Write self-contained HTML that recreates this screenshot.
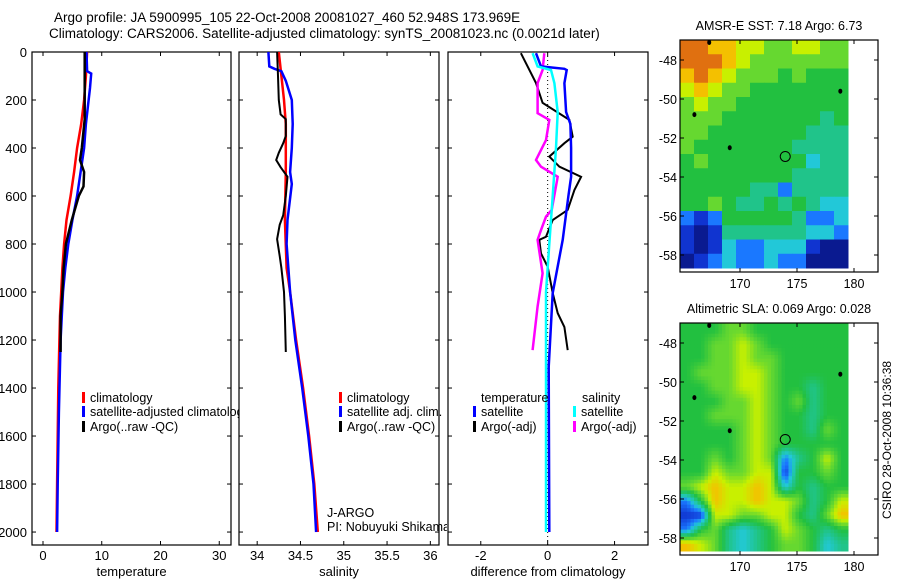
<!DOCTYPE html>
<html><head><meta charset="utf-8">
<style>
body{margin:0;background:#fff;}
svg{display:block;font-family:"Liberation Sans",sans-serif;}
text{fill:#000;}
</style></head>
<body>
<svg id="fig" width="900" height="580" viewBox="0 0 900 580" xmlns="http://www.w3.org/2000/svg">
<defs>
<clipPath id="c1"><rect x="32" y="52" width="208" height="493"/></clipPath>
<clipPath id="c2"><rect x="239" y="52" width="208" height="493"/></clipPath>
</defs>
<text x="54" y="22" font-size="13.5">Argo profile: JA 5900995_105 22-Oct-2008 20081027_460 52.948S 173.969E</text>
<text x="49" y="38" font-size="13.5">Climatology: CARS2006. Satellite-adjusted climatology: synTS_20081023.nc (0.0021d later)</text>
<g id="g1"></g>
<g id="g2"></g>
<g id="g3"></g>
<g id="m1"></g>
<g id="m2"></g>
<text transform="translate(891,440) rotate(-90)" text-anchor="middle" font-size="12">CSIRO 28-Oct-2008 10:36:38</text>
</svg>
<script>
// ---- data ----
const depthTicks=[0,200,400,600,800,1000,1200,1400,1600,1800,2000];
const tempTicks=[0,10,20,30];
const salTicks=[34,34.5,35,35.5,36];
const diffTicks=[-2,0,2];
const tempClimDepth=[0,100,200,300,400,500,600,700,800,900,1000,1100,1200,1400,1600,1800,2000];
const tempClim=[7.5,7.3,7.0,6.5,5.8,5.3,4.7,4.0,3.6,3.3,3.1,2.9,2.8,2.6,2.5,2.4,2.3];
const tempSatDepth=[0,80,90,150,300,400,500,600,700,800,900,1000,1200,1500,1800,2000];
const tempSat=[7.4,7.5,8.2,8.0,7.3,7.0,6.4,5.8,5.0,4.3,3.8,3.4,3.0,2.7,2.5,2.4];
const tempArgoDepth=[0,280,400,450,500,560,600,700,800,900,1000,1100,1250];
const tempArgo=[7.1,7.1,6.6,6.3,7.0,6.9,6.1,4.9,3.9,3.5,3.3,3.0,3.0];
const salClimDepth=[0,100,200,300,500,700,900,1000,1200,1400,1600,1800,2000];
const salClim=[34.25,34.28,34.31,34.33,34.33,34.32,34.34,34.38,34.45,34.53,34.6,34.66,34.7];
const salSatDepth=[0,60,70,80,120,200,300,400,500,550,700,800,1000,1200,1400,1600,1800,2000];
const salSat=[34.13,34.14,34.2,34.28,34.33,34.4,34.41,34.4,34.38,34.4,34.35,34.34,34.38,34.44,34.52,34.59,34.65,34.68];
const salArgoDepth=[0,100,200,260,280,350,380,420,450,480,520,600,680,720,780,850,900,1000,1100,1250];
const salArgo=[34.23,34.24,34.25,34.27,34.33,34.33,34.3,34.25,34.22,34.27,34.35,34.33,34.3,34.26,34.23,34.26,34.28,34.31,34.32,34.33];
const dTSatDepth=[5,60,70,75,130,250,300,400,520,600,783,1004,1312,2000];
const dTSat=[-0.35,-0.2,0.5,0.57,0.5,0.55,0.68,0.7,0.7,0.62,0.45,0.15,0.03,0.05];
const dTArgoDepth=[5,129,212,283,353,380,436,478,520,575,658,700,770,783,839,895,1004,1088,1146,1242];
const dTArgo=[-0.8,-0.35,-0.15,0.65,0.75,0.5,0.05,0.35,1.0,0.8,0.6,0.15,-0.05,-0.25,-0.2,0,0.15,0.3,0.5,0.6];
const dSSatDepth=[5,60,75,130,250,400,600,800,1000,1300,2000];
const dSSat=[-0.45,-0.3,0.1,0.2,0.3,0.25,0.15,0.05,-0.05,-0.05,-0.05];
const dSArgoDepth=[5,75,129,255,283,367,450,478,520,658,686,742,783,922,1060,1242];
const dSArgo=[-0.1,-0.15,-0.3,-0.3,0.05,-0.05,-0.35,-0.2,0.3,0.12,-0.05,-0.2,-0.3,-0.15,-0.3,-0.45];
const latTicks=[-48,-50,-52,-54,-56,-58];
const lonTicks=[170,175,180];
const sstGrid=[
[9,9,8,8,7,7,6,6,7,7,6,6],[9,9,9,8,7,6,6,6,6,6,6,6],[8,9,8,7,6,6,6,5,6,5,5,5],[7,8,7,6,6,5,5,5,5,5,5,5],
[6,7,6,6,5,5,5,5,5,5,5,5],[6,6,6,5,5,5,5,5,5,5,4,5],[6,6,5,5,5,5,5,5,5,4,4,4],[6,5,5,5,5,5,5,5,4,4,4,4],
[5,6,5,5,5,5,5,5,5,3,4,4],[5,5,5,5,5,5,5,5,4,4,4,4],[5,5,5,5,5,4,4,2,4,4,4,4],[5,5,6,5,4,4,5,4,5,4,3,3],
[2,1,2,5,5,5,5,5,4,2,2,3],[1,0,1,4,4,4,4,4,4,3,3,2],[1,0,1,3,2,2,3,3,3,1,0,0],[0,1,2,3,2,2,3,2,2,0,0,0]];
const slaGrid=[
[5,5,5,6,6,5,5,5,5,5,5,5],[5,5,6,6,7,6,5,5,5,5,5,5],[5,5,6,6,7,6,6,5,5,5,5,5],[5,6,6,6,7,7,6,5,5,5,5,5],
[5,5,6,6,7,7,6,5,5,4,5,5],[5,5,5,6,6,7,6,5,6,4,5,5],[5,5,6,6,6,7,6,5,5,4,5,5],[5,5,5,5,6,7,6,5,5,4,6,5],
[5,5,5,5,6,7,6,5,5,5,5,5],[5,5,6,5,6,7,6,2,4,5,7,5],[5,5,7,6,6,7,7,1,5,5,6,5],[6,7,8,7,7,8,7,3,5,4,5,5],
[2,5,8,7,7,8,7,7,6,4,5,7],[1,1,7,7,6,6,7,7,5,4,6,8],[2,5,6,4,3,4,5,7,6,5,4,5],[8,7,6,4,3,4,5,6,6,5,3,4]];
const cmap=["#0a1a90","#1034d0","#1a78ff","#22c8d8","#20c48a","#22c040","#66d830","#c8f000","#f4c000","#e07010"];

// ---- helpers ----
const NS="http://www.w3.org/2000/svg";
function mk(parent,tag,attrs){const e=document.createElementNS(NS,tag);for(const k in attrs)e.setAttribute(k,attrs[k]);parent.appendChild(e);return e;}
const Y0=52,Y1=545,DMAX=2054;
const yD=d=>Y0+d*(Y1-Y0)/DMAX;

function hex(c){return [parseInt(c.slice(1,3),16),parseInt(c.slice(3,5),16),parseInt(c.slice(5,7),16)];}
function colorAt(v){
  v=Math.max(0,Math.min(9,v));const i=Math.min(8,Math.floor(v)),f=v-i;
  const a=hex(cmap[i]),b=hex(cmap[i+1]);
  return 'rgb('+a.map((x,k)=>Math.round(x+(b[k]-x)*f)).join(',')+')';
}

function panel(g,x0,x1,vmin,vmax,xt,label,ylabels){
  const sx=v=>x0+(v-vmin)*(x1-x0)/(vmax-vmin);
  const r=mk(g,'rect',{x:x0,y:Y0,width:x1-x0,height:Y1-Y0,fill:'#fff',stroke:'#000','stroke-width':1.2});
  
  
  depthTicks.forEach(d=>{
    const y=yD(d);
    mk(g,'line',{x1:x0,y1:y,x2:x0+4,y2:y,stroke:'#000'});
    mk(g,'line',{x1:x1,y1:y,x2:x1-4,y2:y,stroke:'#000'});
    if(ylabels){const t=mk(g,'text',{x:x0-5,y:y+5,'text-anchor':'end','font-size':13});t.textContent=d;
      
      }
  });
  xt.forEach(v=>{
    const x=sx(v);
    mk(g,'line',{x1:x,y1:Y1,x2:x,y2:Y1-4,stroke:'#000'});
    mk(g,'line',{x1:x,y1:Y0,x2:x,y2:Y0+4,stroke:'#000'});
    const t=mk(g,'text',{x:x,y:560,'text-anchor':'middle','font-size':13});t.textContent=v;
    
    
  });
  const t=mk(g,'text',{x:(x0+x1)/2,y:576,'text-anchor':'middle','font-size':13});t.textContent=label;
  
  
  return sx;
}
function line(g,sx,ds,vs,color,w,name){
  const pts=ds.map((d,i)=>sx(vs[i]).toFixed(1)+','+yD(d).toFixed(1)).join(' ');
  const p=mk(g,'polyline',{points:pts,fill:'none',stroke:color,'stroke-width':w});
  
  
}
function legend(g,x,y,color,label,clip){
  mk(g,'rect',{x:x,y:y-10,width:3,height:11,fill:color});
  const t=mk(g,'text',{x:x+8,y:y,'font-size':12.5});
  if(clip)t.setAttribute('clip-path',clip);
  t.textContent=label;
  
  
}

// Temperature
const g1=document.getElementById('g1');
const sT=panel(g1,32,231,-1.87,32.0,tempTicks,'temperature',true);
line(g1,sT,tempClimDepth,tempClim,'#f00',2.5,'temp-climatology-line');
line(g1,sT,tempSatDepth,tempSat,'#00f',2.5,'temp-satellite-line');
line(g1,sT,tempArgoDepth,tempArgo,'#000',2.5,'temp-argo-line');
legend(g1,82,402,'#f00','climatology','url(#c1)');
legend(g1,82,416,'#00f','satellite-adjusted climatology','url(#c1)');
legend(g1,82,431,'#000','Argo(..raw -QC)','url(#c1)');

// Salinity
const g2=document.getElementById('g2');
const sS=panel(g2,239,439,33.79,36.1,salTicks,'salinity',false);
line(g2,sS,salClimDepth,salClim,'#f00',2.5,'sal-climatology-line');
line(g2,sS,salSatDepth,salSat,'#00f',2.5,'sal-satellite-line');
line(g2,sS,salArgoDepth,salArgo,'#000',2,'sal-argo-line');
legend(g2,339,402,'#f00','climatology');
legend(g2,339,416,'#00f','satellite adj. clim.');
legend(g2,339,431,'#000','Argo(..raw -QC)');
[['J-ARGO',517],['PI: Nobuyuki Shikama',531]].forEach(a=>{
  const t=mk(g2,'text',{x:327,y:a[1],'font-size':12.5,'clip-path':'url(#c2)'});t.textContent=a[0];
  
  
});

// Difference
const g3=document.getElementById('g3');
const sD=panel(g3,448,648,-2.98,3.0,diffTicks,'difference from climatology',false);
mk(g3,'line',{x1:sD(0),y1:Y0,x2:sD(0),y2:Y1,stroke:'#000','stroke-dasharray':'1,3'});
line(g3,sD,dTArgoDepth,dTArgo,'#000',2,'diff-temp-argo-line');
line(g3,sD,dSArgoDepth,dSArgo,'#f0f',2.5,'diff-sal-argo-line');
line(g3,sD,dTSatDepth,dTSat,'#00f',2.5,'diff-temp-satellite-line');
line(g3,sD,dSSatDepth,dSSat,'#0ff',2.5,'diff-sal-satellite-line');
[['temperature',481],['salinity',582]].forEach(a=>{
  const t=mk(g3,'text',{x:a[1],y:402,'font-size':12.5});t.textContent=a[0];
  
  
});
legend(g3,473,416,'#00f','satellite');
legend(g3,473,431,'#000','Argo(-adj)');
legend(g3,573,416,'#0ff','satellite');
legend(g3,573,431,'#f0f','Argo(-adj)');

// Maps
function map(g,top,grid,title,smooth){
  const L=680,R=878,H=232,dataR=848,dataB=top+228;
  const latY=lat=>top+20+(-48-lat)*19.5;
  const lonX=lon=>740+(lon-170)*11.4;
  const t=mk(g,'text',{x:779,y:top-10,'text-anchor':'middle','font-size':12.5});t.textContent=title;
  
  
  mk(g,'rect',{x:L,y:top,width:R-L,height:H,fill:'#fff'});
  const rows=grid.length,cols=grid[0].length;
  const sub=smooth?4:1;
  const cw=(dataR-L)/(cols*sub),ch=(dataB-top)/(rows*sub);
  const val=(r,c)=>grid[Math.max(0,Math.min(rows-1,r))][Math.max(0,Math.min(cols-1,c))];
  for(let i=0;i<rows*sub;i++)for(let j=0;j<cols*sub;j++){
    let v;
    if(sub===1)v=grid[i][j];
    else{
      const fy=(i+0.5)/sub-0.5,fx=(j+0.5)/sub-0.5;
      const r0=Math.floor(fy),c0=Math.floor(fx),ty=fy-r0,tx=fx-c0;
      v=val(r0,c0)*(1-tx)*(1-ty)+val(r0,c0+1)*tx*(1-ty)+val(r0+1,c0)*(1-tx)*ty+val(r0+1,c0+1)*tx*ty;
    }
    const c=mk(g,'rect',{x:L+j*cw,y:top+i*ch,width:cw+0.5,height:ch+0.5,fill:sub===1?cmap[v]:colorAt(v)});
    
    
  }
  mk(g,'rect',{x:L,y:top,width:R-L,height:H,fill:'none',stroke:'#000','stroke-width':1.2});
  latTicks.forEach(lat=>{
    const y=latY(lat);
    mk(g,'line',{x1:L,y1:y,x2:L+4,y2:y,stroke:'#000'});
    mk(g,'line',{x1:R,y1:y,x2:R-4,y2:y,stroke:'#000'});
    const tt=mk(g,'text',{x:L-3,y:y+5,'text-anchor':'end','font-size':12.5});tt.textContent=lat;
    
    
  });
  lonTicks.forEach(lon=>{
    const x=lonX(lon);
    mk(g,'line',{x1:x,y1:top,x2:x,y2:top+4,stroke:'#000'});
    mk(g,'line',{x1:x,y1:top+H,x2:x,y2:top+H-4,stroke:'#000'});
    const tt=mk(g,'text',{x:x,y:top+H+16,'text-anchor':'middle','font-size':12.5});tt.textContent=lon;
    
    
  });
  const c=mk(g,'circle',{cx:lonX(173.969),cy:latY(-52.948),r:5,fill:'none',stroke:'#000'});
  
  
  [[166,-50.8],[169.1,-52.5],[178.8,-49.6],[167.3,-47.1]].forEach(p=>{
    const e=mk(g,'ellipse',{cx:lonX(p[0]),cy:latY(p[1]),rx:2,ry:2.5,fill:'#000'});
    
    
  });
}
map(document.getElementById('m1'),40,sstGrid,'AMSR-E SST: 7.18 Argo: 6.73',false);
map(document.getElementById('m2'),323,slaGrid,'Altimetric SLA: 0.069 Argo: 0.028',true);
</script>
</body></html>
